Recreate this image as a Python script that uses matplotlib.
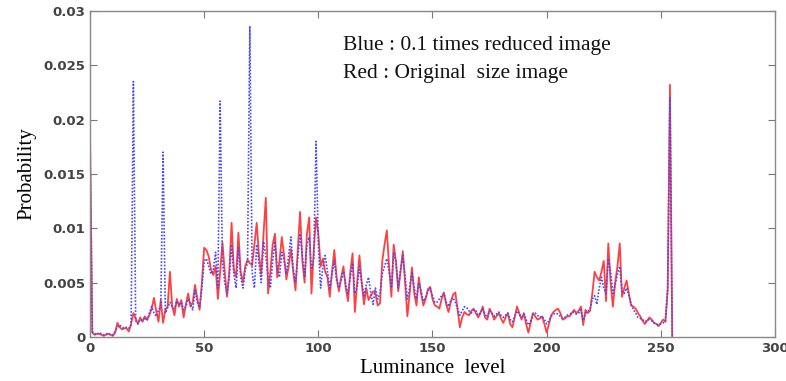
import numpy as np
import matplotlib.pyplot as plt

# luminance levels 0..255
levels = np.arange(256)

# probability, original size image (red)
red = [
    0.019, 0.0004, 0.0002, 0.0003, 0.0003, 0.0002, 0.0001, 0.0002, 0.0003, 0.0002,
    0.0001, 0.0004, 0.0013, 0.0009, 0.0007, 0.0008, 0.0008, 0.0005, 0.0012, 0.0022,
    0.0017, 0.0012, 0.0018, 0.0014, 0.0019, 0.0016, 0.0020, 0.0026, 0.0036, 0.0024,
    0.0014, 0.0034, 0.0013, 0.0025, 0.0028, 0.0060, 0.0028, 0.0020, 0.0035, 0.0028,
    0.0034, 0.0018, 0.0030, 0.0040, 0.0028, 0.0032, 0.0048, 0.0035, 0.0025, 0.0050,
    0.0082, 0.0080, 0.0074, 0.0062, 0.0057, 0.0065, 0.0035, 0.0060, 0.0087, 0.0060,
    0.0037, 0.0060, 0.0105, 0.0062, 0.0055, 0.0096, 0.0060, 0.0050, 0.0065, 0.0071,
    0.0068, 0.0066, 0.0085, 0.0105, 0.0075, 0.0058, 0.0095, 0.0128, 0.0040, 0.0060,
    0.0085, 0.0095, 0.0055, 0.0070, 0.0092, 0.0075, 0.0053, 0.0065, 0.0081, 0.0060,
    0.0043, 0.0080, 0.0115, 0.0070, 0.0050, 0.0095, 0.0110, 0.0040, 0.0080, 0.0110,
    0.0095, 0.0065, 0.0072, 0.0060, 0.0055, 0.0037, 0.0060, 0.0080, 0.0055, 0.0042,
    0.0055, 0.0065, 0.0045, 0.0033, 0.0060, 0.0077, 0.0023, 0.0050, 0.0075, 0.0050,
    0.0030, 0.0045, 0.0034, 0.0038, 0.0042, 0.0040, 0.0029, 0.0031, 0.0070, 0.0085,
    0.0098, 0.0065, 0.0037, 0.0085, 0.0070, 0.0042, 0.0060, 0.0079, 0.0050, 0.0019,
    0.0040, 0.0064, 0.0040, 0.0029, 0.0055, 0.0040, 0.0029, 0.0035, 0.0044, 0.0046,
    0.0035, 0.0029, 0.0028, 0.0026, 0.0035, 0.0041, 0.0030, 0.0023, 0.0032, 0.0039,
    0.0041, 0.0025, 0.0009, 0.0018, 0.0023, 0.0021, 0.0020, 0.0024, 0.0026, 0.0022,
    0.0018, 0.0022, 0.0028, 0.0018, 0.0016, 0.0026, 0.0022, 0.0016, 0.0019, 0.0022,
    0.0017, 0.0013, 0.0018, 0.0022, 0.0012, 0.0009, 0.0018, 0.0028, 0.0022, 0.0016,
    0.0022, 0.0012, 0.0004, 0.0013, 0.0022, 0.0019, 0.0016, 0.0017, 0.0019, 0.0012,
    0.0004, 0.0012, 0.0020, 0.0023, 0.0025, 0.0026, 0.0022, 0.0016, 0.0017, 0.0019,
    0.0019, 0.0022, 0.0025, 0.0022, 0.0024, 0.0028, 0.0011, 0.0025, 0.0022, 0.0024,
    0.0040, 0.0060, 0.0055, 0.0052, 0.0060, 0.0070, 0.0033, 0.0086, 0.0050, 0.0028,
    0.0050, 0.0065, 0.0086, 0.0037, 0.0045, 0.0052, 0.0040, 0.0029, 0.0028, 0.0026,
    0.0022, 0.0019, 0.0015, 0.0012, 0.0015, 0.0018, 0.0016, 0.0013, 0.0012, 0.0010,
    0.0013, 0.0016, 0.0014, 0.0043, 0.0232, 0.0,
]

# probability, 0.1 times reduced image (blue)
blue = [
    0.018, 0.0005, 0.0003, 0.0002, 0.0004, 0.0003, 0.0002, 0.0003, 0.0002, 0.0003,
    0.0002, 0.0005, 0.0009, 0.0011, 0.0009, 0.0008, 0.0009, 0.0008, 0.0011, 0.0235,
    0.0015, 0.0012, 0.0016, 0.0015, 0.0018, 0.0015, 0.0022, 0.0028, 0.0022, 0.0019,
    0.0025, 0.0028, 0.0170, 0.0022, 0.0027, 0.0032, 0.0028, 0.0026, 0.0033, 0.0030,
    0.0032, 0.0025, 0.0028, 0.0035, 0.0030, 0.0025, 0.0043, 0.0032, 0.0027, 0.0045,
    0.0070, 0.0072, 0.0065, 0.0058, 0.0062, 0.0078, 0.0045, 0.0217, 0.0070, 0.0050,
    0.0040, 0.0055, 0.0085, 0.0058, 0.0045, 0.0082, 0.0055, 0.0045, 0.0062, 0.0068,
    0.0286, 0.0060, 0.0045, 0.0085, 0.0068, 0.0050, 0.0088, 0.0075, 0.0055, 0.0045,
    0.0070, 0.0088, 0.0062, 0.0055, 0.0078, 0.0070, 0.0058, 0.0075, 0.0092, 0.0063,
    0.0050, 0.0072, 0.0095, 0.0075, 0.0055, 0.0085, 0.0092, 0.0062, 0.0072, 0.0180,
    0.0085, 0.0045, 0.0065, 0.0075, 0.0060, 0.0045, 0.0058, 0.0070, 0.0052, 0.0045,
    0.0052, 0.0060, 0.0048, 0.0040, 0.0055, 0.0068, 0.0040, 0.0045, 0.0065, 0.0050,
    0.0038, 0.0048, 0.0055, 0.0040, 0.0030, 0.0045, 0.0035, 0.0040, 0.0058, 0.0065,
    0.0072, 0.0060, 0.0045, 0.0078, 0.0068, 0.0045, 0.0062, 0.0075, 0.0055, 0.0035,
    0.0045, 0.0060, 0.0045, 0.0035, 0.0050, 0.0042, 0.0033, 0.0036, 0.0042, 0.0045,
    0.0038, 0.0032, 0.0032, 0.0035, 0.0038, 0.0040, 0.0032, 0.0028, 0.0034, 0.0036,
    0.0032, 0.0026, 0.0020, 0.0024, 0.0028, 0.0027, 0.0024, 0.0022, 0.0025, 0.0024,
    0.0020, 0.0022, 0.0026, 0.0021, 0.0018, 0.0024, 0.0022, 0.0019, 0.0021, 0.0023,
    0.0020, 0.0018, 0.0020, 0.0022, 0.0016, 0.0014, 0.0019, 0.0024, 0.0021, 0.0018,
    0.0021, 0.0016, 0.0011, 0.0015, 0.0021, 0.0022, 0.0020, 0.0018, 0.0019, 0.0016,
    0.0012, 0.0015, 0.0019, 0.0021, 0.0022, 0.0021, 0.0019, 0.0017, 0.0018, 0.0020,
    0.0021, 0.0022, 0.0023, 0.0021, 0.0022, 0.0025, 0.0015, 0.0022, 0.0023, 0.0026,
    0.0035, 0.0038, 0.0030, 0.0045, 0.0055, 0.0045, 0.0040, 0.0072, 0.0060, 0.0040,
    0.0048, 0.0058, 0.0065, 0.0042, 0.0040, 0.0045, 0.0038, 0.0030, 0.0025, 0.0022,
    0.0018, 0.0017, 0.0016, 0.0014, 0.0015, 0.0016, 0.0015, 0.0013, 0.0012, 0.0011,
    0.0012, 0.0013, 0.0014, 0.0045, 0.0220, 0.0,
]

xticks = [0, 50, 100, 150, 200, 250, 300]
yticks = [0, 0.005, 0.01, 0.015, 0.02, 0.025, 0.03]
ytick_labels = ['0', '0.005', '0.01', '0.015', '0.02', '0.025', '0.03']

fig = plt.figure(figsize=(7.86, 3.81), dpi=100)
ax = fig.add_axes([0.1145, 0.1155, 0.8715, 0.856])

ax.plot(levels, red, color='#ff4040', lw=1.3)
ax.plot(levels, blue, color='#4848ff', lw=1.2, ls=(0, (1, 1)))

ax.set_xlim(0, 300)
ax.set_ylim(0, 0.03)
ax.set_xticks(xticks)
ax.set_yticks(yticks)
ax.set_yticklabels(ytick_labels)
ax.tick_params(direction='in', length=5, width=0.8, color='#777',
               top=True, right=True, labelsize=9.5, labelcolor='#444')
for lab in ax.get_xticklabels() + ax.get_yticklabels():
    lab.set_fontweight('bold')
for s in ax.spines.values():
    s.set_color('#888')
    s.set_linewidth(1.0)

ax.set_xlabel('Luminance  level', family='Liberation Serif', fontsize=15, labelpad=3)
ax.set_ylabel('Probability', family='Liberation Serif', fontsize=15, labelpad=5)

ax.text(0.369, 0.893, 'Blue : 0.1 times reduced image', transform=ax.transAxes,
        family='Liberation Serif', fontsize=15.5, va='center', color='#111')
ax.text(0.369, 0.807, 'Red : Original  size image', transform=ax.transAxes,
        family='Liberation Serif', fontsize=15.5, va='center', color='#111')

fig.savefig('out.png', dpi=100)
